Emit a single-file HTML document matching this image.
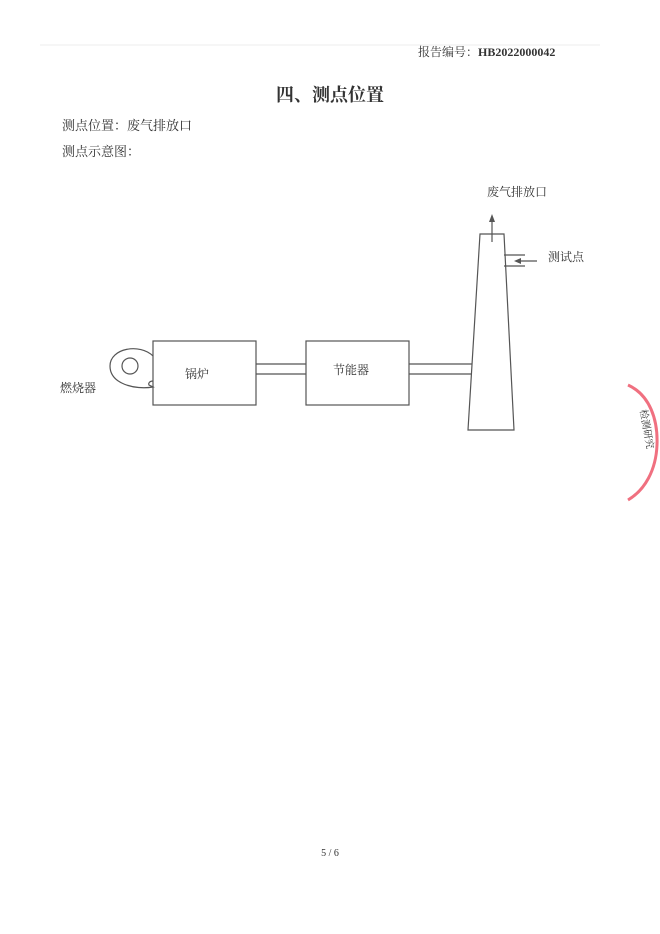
<!DOCTYPE html>
<html><head><meta charset="utf-8"><style>
html,body{margin:0;padding:0;background:#fff;}
svg{display:block}
text{font-family:"Liberation Serif","Noto Serif CJK SC",serif;fill:#333}
</style></head><body>
<svg width="660" height="934" viewBox="0 0 660 934" xmlns="http://www.w3.org/2000/svg">
<line x1="40" y1="45" x2="600" y2="45" stroke="#eee" stroke-width="1"/>
<text x="418" y="56" font-size="12">报告编号：<tspan font-weight="bold">HB2022000042</tspan></text>
<text x="330" y="101" font-size="18" font-weight="bold" text-anchor="middle" fill="#222">四、测点位置</text>
<text x="62" y="130" font-size="13">测点位置：废气排放口</text>
<text x="62" y="156" font-size="13">测点示意图：</text>
<g stroke="#555" stroke-width="1.2" fill="none">
<rect x="153" y="341" width="103" height="64" fill="#fff"/>
<rect x="306" y="341" width="103" height="64" fill="#fff"/>
<line x1="256" y1="364" x2="306" y2="364"/><line x1="256" y1="374" x2="306" y2="374"/>
<line x1="409" y1="364" x2="472" y2="364"/><line x1="409" y1="374" x2="471" y2="374"/>
<polygon points="480,234 504,234 514,430 468,430" fill="#fff"/>
<line x1="504" y1="255" x2="525" y2="255"/><line x1="504" y1="266" x2="525" y2="266"/>
<line x1="492" y1="242" x2="492" y2="220"/>
<line x1="537" y1="261" x2="518" y2="261"/>
<path d="M153,356 C140,343 110,348 110,366 C110,384 135,390 153,387 L149,385 C148,383 150,381 153,381"/>
<circle cx="130" cy="366" r="8"/>
</g>
<polygon points="492,214 489,222 495,222" fill="#555"/>
<polygon points="514,261 521,258 521,264" fill="#555"/>
<text x="185" y="378" font-size="12">锅炉</text>
<text x="333" y="374" font-size="12">节能器</text>
<text x="60" y="392" font-size="12">燃烧器</text>
<text x="487" y="196" font-size="12">废气排放口</text>
<text x="548" y="261" font-size="12">测试点</text>
<text x="330" y="856" font-size="10" text-anchor="middle">5 / 6</text>
<path d="M628,385 C650,395 658,420 657,445 C656,470 645,490 628,500" stroke="#f07080" stroke-width="3" fill="none"/>
<text x="640" y="410" font-size="10" fill="#f07080" transform="rotate(80 640 410)">检测研究</text>
</svg>
</body></html>
